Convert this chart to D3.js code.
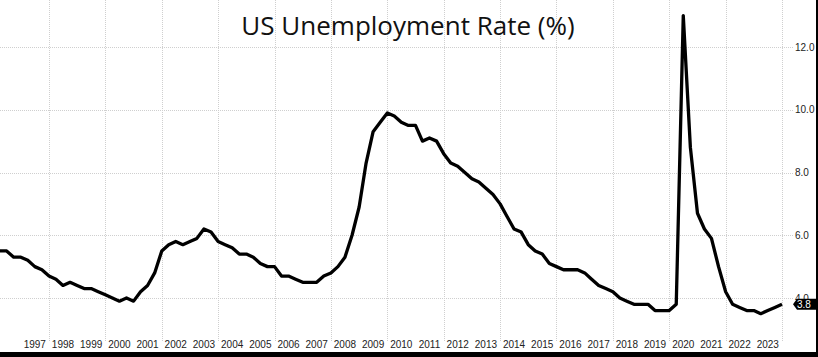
<!DOCTYPE html>
<html>
<head>
  <title>US Unemployment Rate</title>
  <meta charset="utf-8">
<style type="text/css">
body {
  margin: 0;
  background: #fff;
}

.grid line {
  stroke: #cfcfcf;
  stroke-width: 1px;
  stroke-dasharray: 1,1;
}

.axis text {
  font-family: "Liberation Sans", Arial, sans-serif;
  font-size: 10px;
  fill: #222;
}

.title {
  font-family: "Open Sans", sans-serif;
  font-size: 26px;
  fill: #111;
}
</style>
</head>
<body>
<script src="https://cdn.jsdelivr.net/npm/d3@7"></script>
<script>
// quarterly averages, 1996 Q1 .. 2023 Q4
var firstYear = 1996;
var rates = [
  5.5, 5.5, 5.3, 5.3,   // 1996
  5.2, 5.0, 4.9, 4.7,   // 1997
  4.6, 4.4, 4.5, 4.4,   // 1998
  4.3, 4.3, 4.2, 4.1,   // 1999
  4.0, 3.9, 4.0, 3.9,   // 2000
  4.2, 4.4, 4.8, 5.5,   // 2001
  5.7, 5.8, 5.7, 5.8,   // 2002
  5.9, 6.2, 6.1, 5.8,   // 2003
  5.7, 5.6, 5.4, 5.4,   // 2004
  5.3, 5.1, 5.0, 5.0,   // 2005
  4.7, 4.7, 4.6, 4.5,   // 2006
  4.5, 4.5, 4.7, 4.8,   // 2007
  5.0, 5.3, 6.0, 6.9,   // 2008
  8.3, 9.3, 9.6, 9.9,   // 2009
  9.8, 9.6, 9.5, 9.5,   // 2010
  9.0, 9.1, 9.0, 8.6,   // 2011
  8.3, 8.2, 8.0, 7.8,   // 2012
  7.7, 7.5, 7.3, 7.0,   // 2013
  6.6, 6.2, 6.1, 5.7,   // 2014
  5.5, 5.4, 5.1, 5.0,   // 2015
  4.9, 4.9, 4.9, 4.8,   // 2016
  4.6, 4.4, 4.3, 4.2,   // 2017
  4.0, 3.9, 3.8, 3.8,   // 2018
  3.8, 3.6, 3.6, 3.6,   // 2019
  3.8, 13.0, 8.8, 6.7,  // 2020
  6.2, 5.9, 5.0, 4.2,   // 2021
  3.8, 3.7, 3.6, 3.6,   // 2022
  3.5, 3.6, 3.7, 3.8    // 2023
];
var yearLabels = ["1997","1998","1999","2000","2001","2002","2003","2004","2005",
  "2006","2007","2008","2009","2010","2011","2012","2013","2014","2015","2016",
  "2017","2018","2019","2020","2021","2022","2023"];
var gridYears = [1998,2000,2002,2004,2006,2008,2010,2012,2014,2016,2018,2020,2022,2024];
var yTicks = [4, 6, 8, 10, 12];
var lastValue = 3.8;
var titleText = "US Unemployment Rate (%)";

var width = 818, height = 357;

var svg = d3.select("body")
  .append("svg")
    .attr("width", width)
    .attr("height", height);

// points sit at the end of each quarter
var data = rates.map(function(v, i) {
  return { date: new Date(firstYear + Math.floor(i / 4), (i % 4) * 3 + 3, 1), value: v };
});

var xscale = d3.scaleTime()
  .domain([new Date(1998, 0, 1), new Date(2024, 0, 1)])
  .range([49, 782]);

var yscale = d3.scaleLinear()
  .domain([4, 12])
  .range([298, 47]);

// grid
var grid = svg.append("g").attr("class", "grid");

grid.selectAll("line.v")
  .data(gridYears)
  .enter().append("line")
    .attr("class", "v")
    .attr("x1", function(d) { return Math.round(xscale(new Date(d, 0, 1))) + 0.5; })
    .attr("x2", function(d) { return Math.round(xscale(new Date(d, 0, 1))) + 0.5; })
    .attr("y1", 0)
    .attr("y2", 342);

grid.selectAll("line.h")
  .data(yTicks)
  .enter().append("line")
    .attr("class", "h")
    .attr("x1", 0)
    .attr("x2", 793)
    .attr("y1", function(d) { return Math.round(yscale(d)) + 0.5; })
    .attr("y2", function(d) { return Math.round(yscale(d)) + 0.5; });

// title
svg.append("text")
  .attr("class", "title")
  .attr("x", 408)
  .attr("y", 35)
  .attr("text-anchor", "middle")
  .text(titleText);

// x labels, centred in each year
var xAxis = svg.append("g").attr("class", "axis");
xAxis.selectAll("text")
  .data(yearLabels)
  .enter().append("text")
    .attr("x", function(d) { return xscale(new Date(+d, 6, 1)); })
    .attr("y", 348)
    .attr("text-anchor", "middle")
    .text(function(d) { return d; });

// y labels on the right (4.0 sits partly behind the value tag, as in the original)
var yAxis = svg.append("g").attr("class", "axis");
yAxis.selectAll("text")
  .data(yTicks)
  .enter().append("text")
    .attr("x", 795)
    .attr("y", function(d) { return yscale(d); })
    .attr("dy", ".35em")
    .text(function(d) { return d3.format(".1f")(d); });

// the line
var line = d3.line()
  .x(function(d) { return xscale(d.date); })
  .y(function(d) { return yscale(d.value); });

svg.append("path")
  .datum(data)
  .attr("fill", "none")
  .attr("stroke", "#000")
  .attr("stroke-width", 3.3)
  .attr("stroke-linejoin", "round")
  .attr("d", line);

// last value tag
var ly = yscale(lastValue);
svg.append("path")
  .attr("fill", "#000")
  .attr("d", "M793," + ly + " L797," + (ly - 5.5) + " L818," + (ly - 5.5) +
             " L818," + (ly + 5.5) + " L797," + (ly + 5.5) + " Z");
svg.append("text")
  .attr("x", 797)
  .attr("y", ly)
  .attr("dy", ".35em")
  .style("font-family", "Liberation Sans, Arial, sans-serif")
  .style("font-size", "10px")
  .style("fill", "#fff")
  .text(d3.format(".1f")(lastValue));

// frame edges from the screenshot
svg.append("rect")
  .attr("x", 0).attr("y", 352)
  .attr("width", width).attr("height", 5)
  .attr("fill", "#000");
svg.append("rect")
  .attr("x", 816).attr("y", 0)
  .attr("width", 2).attr("height", height)
  .attr("fill", "#000");
</script>
</body>
</html>
